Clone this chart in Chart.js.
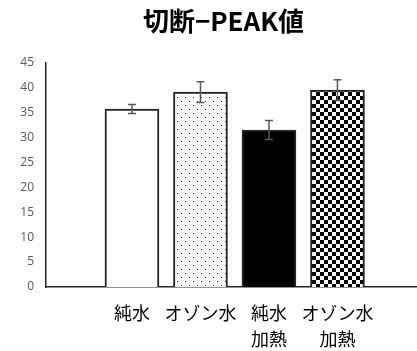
<!DOCTYPE html>
<html>
<head>
<meta charset="utf-8">
<script src="https://cdn.jsdelivr.net/npm/chart.js@4.4.1/dist/chart.umd.min.js"></script>
<style>
  html, body { margin: 0; padding: 0; background: #fff; }
  #wrap { width: 417px; height: 351px; }
</style>
</head>
<body>
<div id="wrap"><canvas id="myChart" width="417" height="351"></canvas></div>
<script>
const categories = [["純水"], ["オゾン水"], ["純水", "加熱"], ["オゾン水", "加熱"]];
const positions = [1, 2, 3, 4];
const peakValues = [35.7, 39.1, 31.5, 39.5];
const errorValues = [0.9, 2.1, 1.9, 2.1];
const yTicks = [0, 5, 10, 15, 20, 25, 30, 35, 40, 45];

// fill patterns for the bars
function makePattern(draw) {
    const c = document.createElement("canvas");
    c.width = 8;
    c.height = 8;
    const g = c.getContext("2d");
    g.fillStyle = "#fff";
    g.fillRect(0, 0, 8, 8);
    draw(g);
    return g.createPattern(c, "repeat");
}

const dotPattern = makePattern(g => {
    g.fillStyle = "#333";
    g.fillRect(1, 1, 1, 1);
    g.fillRect(5, 5, 1, 1);
});

const checkPattern = makePattern(g => {
    g.fillStyle = "#000";
    g.fillRect(0, 0, 4, 4);
    g.fillRect(4, 4, 4, 4);
});

const errorBars = {
    id: "errorBars",
    afterLayout(chart) {
        // title sits a little right of the canvas centre
        if (chart.titleBlock) chart.titleBlock.left = 30;
    },
    afterDatasetsDraw(chart) {
        const ctx = chart.ctx;
        const y = chart.scales.y;
        const meta = chart.getDatasetMeta(0);
        ctx.save();
        ctx.strokeStyle = "#595959";
        ctx.lineWidth = 1.5;
        meta.data.forEach((bar, i) => {
            const top = y.getPixelForValue(peakValues[i] + errorValues[i]);
            const bottom = y.getPixelForValue(peakValues[i] - errorValues[i]);
            ctx.beginPath();
            ctx.moveTo(bar.x, top);
            ctx.lineTo(bar.x, bottom);
            ctx.moveTo(bar.x - 4, top);
            ctx.lineTo(bar.x + 4, top);
            ctx.moveTo(bar.x - 4, bottom);
            ctx.lineTo(bar.x + 4, bottom);
            ctx.stroke();
        });
        ctx.restore();
    }
};

const data = {
    datasets: [{
        data: positions.map((p, i) => ({ x: p, y: peakValues[i] })),
        backgroundColor: ["#ffffff", dotPattern, "#000000", checkPattern],
        borderColor: "#262626",
        borderWidth: 2,
        barThickness: 54,
    }],
};

const config = {
    type: "bar",
    data: data,
    options: {
        responsive: false,
        animation: false,
        layout: {
            padding: 0
        },
        plugins: {
            legend: { display: false },
            tooltip: { enabled: false },
            title: {
                display: true,
                text: "切断−PEAK値",
                color: "#000",
                font: { family: "'Noto Sans CJK JP'", size: 26, weight: "bold", lineHeight: 1.2 },
                padding: { top: 6, bottom: 25.5 }
            }
        },
        scales: {
            x: {
                type: "linear",
                offset: false,
                min: -0.255,
                max: 5.161,
                grid: { display: false, drawTicks: false },
                border: { display: true, color: "#262626", width: 1.5 },
                afterBuildTicks: (scale) => {
                    scale.ticks = positions.map(v => ({ value: v }));
                },
                afterFit: (scale) => {
                    scale.height = 64;
                },
                ticks: {
                    autoSkip: false,
                    maxRotation: 0,
                    padding: 13,
                    color: "#000",
                    font: { family: "'Noto Sans CJK JP'", size: 18, lineHeight: 1.45 },
                    callback: (v) => categories[v - 1]
                }
            },
            y: {
                min: 0,
                max: 45,
                grid: { display: false, drawTicks: false },
                border: { display: true, color: "#262626", width: 1.5 },
                afterBuildTicks: (scale) => {
                    scale.ticks = yTicks.map(v => ({ value: v }));
                },
                afterFit: (scale) => {
                    scale.width = 46;
                },
                ticks: {
                    padding: 12,
                    color: "#595959",
                    font: { family: "'Open Sans'", size: 12 }
                }
            }
        }
    },
    plugins: [errorBars]
};

const ctx = document.getElementById("myChart").getContext("2d");
new Chart(ctx, config);
</script>
</body>
</html>
